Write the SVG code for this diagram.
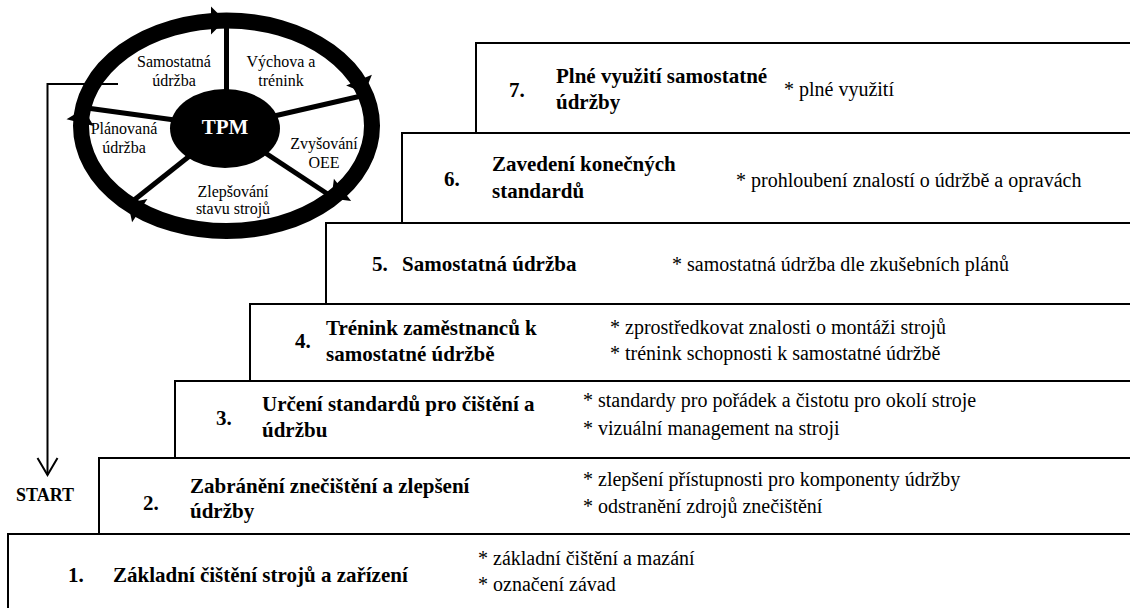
<svg xmlns="http://www.w3.org/2000/svg" width="1130" height="608" viewBox="0 0 1130 608">
<style>
.box{fill:#fff;stroke:#000;stroke-width:2}
text{font-family:'Liberation Serif','Times New Roman',serif;fill:#000}
.b{font-weight:bold;font-size:21px}
.d{font-size:20px}
.w{font-size:16px;text-anchor:middle}
.ring{fill:none;stroke:#000;stroke-width:16}
.spoke{stroke:#000;stroke-width:5}
.conn{fill:none;stroke:#000;stroke-width:2}
</style>
<defs>
<polygon id="ah" points="0,0 -14,-14 -14,14"/>
</defs>
<rect width="1130" height="608" fill="#fff"/>

<g id="step1"><rect class="box" x="8" y="534" width="1130" height="90"/>
<text class="b" x="68" y="582">1.</text>
<text class="b" x="113" y="582">Základní čištění strojů a zařízení</text>
<text class="d" x="478" y="565">* základní čištění a mazání</text>
<text class="d" x="478" y="591">* označení závad</text></g>

<g id="step2"><rect class="box" x="99" y="458" width="1100" height="76"/>
<text class="b" x="143" y="510">2.</text>
<text class="b" x="190" y="493">Zabránění znečištění a zlepšení</text>
<text class="b" x="190" y="518">údržby</text>
<text class="d" x="583" y="486">* zlepšení přístupnosti pro komponenty údržby</text>
<text class="d" x="583" y="513">* odstranění zdrojů znečištění</text></g>

<g id="step3"><rect class="box" x="175" y="381" width="1100" height="77"/>
<text class="b" x="216" y="425">3.</text>
<text class="b" x="262" y="411">Určení standardů pro čištění a</text>
<text class="b" x="262" y="437">údržbu</text>
<text class="d" x="583" y="407">* standardy pro pořádek a čistotu pro okolí stroje</text>
<text class="d" x="583" y="435">* vizuální management na stroji</text></g>

<g id="step4"><rect class="box" x="250" y="304" width="1100" height="77"/>
<text class="b" x="295" y="348">4.</text>
<text class="b" x="326" y="335">Trénink zaměstnanců k</text>
<text class="b" x="326" y="361">samostatné údržbě</text>
<text class="d" x="610" y="334">* zprostředkovat znalosti o montáži strojů</text>
<text class="d" x="610" y="360">* trénink schopnosti k samostatné údržbě</text></g>

<g id="step5"><rect class="box" x="326" y="223" width="1100" height="81"/>
<text class="b" x="372" y="271">5.</text>
<text class="b" x="402" y="271">Samostatná údržba</text>
<text class="d" x="672" y="271">* samostatná údržba dle zkušebních plánů</text></g>

<g id="step6"><rect class="box" x="402" y="133" width="1100" height="90"/>
<text class="b" x="444" y="186">6.</text>
<text class="b" x="492" y="171">Zavedení konečných</text>
<text class="b" x="492" y="198">standardů</text>
<text class="d" x="736" y="187">* prohloubení znalostí o údržbě a opravách</text></g>

<g id="step7"><rect class="box" x="476" y="43" width="1100" height="90"/>
<text class="b" x="509" y="97">7.</text>
<text class="b" x="556" y="83">Plné využití samostatné</text>
<text class="b" x="556" y="109">údržby</text>
<text class="d" x="784" y="96">* plné využití</text></g>

<g id="tpm-wheel">
<line class="spoke" x1="226.5" y1="126" x2="226.5" y2="20"/>
<line class="spoke" x1="226" y1="127" x2="365.6" y2="95"/>
<line class="spoke" x1="226" y1="127" x2="332.9" y2="197.5"/>
<line class="spoke" x1="226" y1="127" x2="129.1" y2="204"/>
<line class="spoke" x1="226" y1="127" x2="83.2" y2="107.5"/>
<ellipse class="ring" cx="226.5" cy="125.75" rx="145.5" ry="105.25"/>
<use href="#ah" transform="translate(225,20.5) rotate(0)"/>
<use href="#ah" transform="translate(364.5,93) rotate(67)"/>
<use href="#ah" transform="translate(331.5,198.5) rotate(142)"/>
<use href="#ah" transform="translate(128,203) rotate(213)"/>
<use href="#ah" transform="translate(83.5,109) rotate(-76)"/>
<ellipse cx="225" cy="128.5" rx="55" ry="39.5" fill="#000"/>
<text x="225" y="134" font-size="21" font-weight="bold" text-anchor="middle" style="fill:#fff">TPM</text>
<text class="w"><tspan x="174" y="67">Samostatná</tspan><tspan x="174" y="86">údržba</tspan></text>
<text class="w"><tspan x="281" y="67">Výchova a</tspan><tspan x="281" y="86">trénink</tspan></text>
<text class="w"><tspan x="124" y="134">Plánovaná</tspan><tspan x="124" y="153">údržba</tspan></text>
<text class="w"><tspan x="324" y="149">Zvyšování</tspan><tspan x="324" y="168">OEE</tspan></text>
<text class="w"><tspan x="233" y="197">Zlepšování</tspan><tspan x="233" y="214">stavu strojů</tspan></text>
</g>

<g id="start"><text x="16" y="501" font-size="18" font-weight="bold">START</text></g>

<g id="connectors">
<path class="conn" d="M118,84 H47.5 V475"/>
<path class="conn" d="M37.5,458 L47.5,475 L57.5,458"/>
</g>
</svg>
